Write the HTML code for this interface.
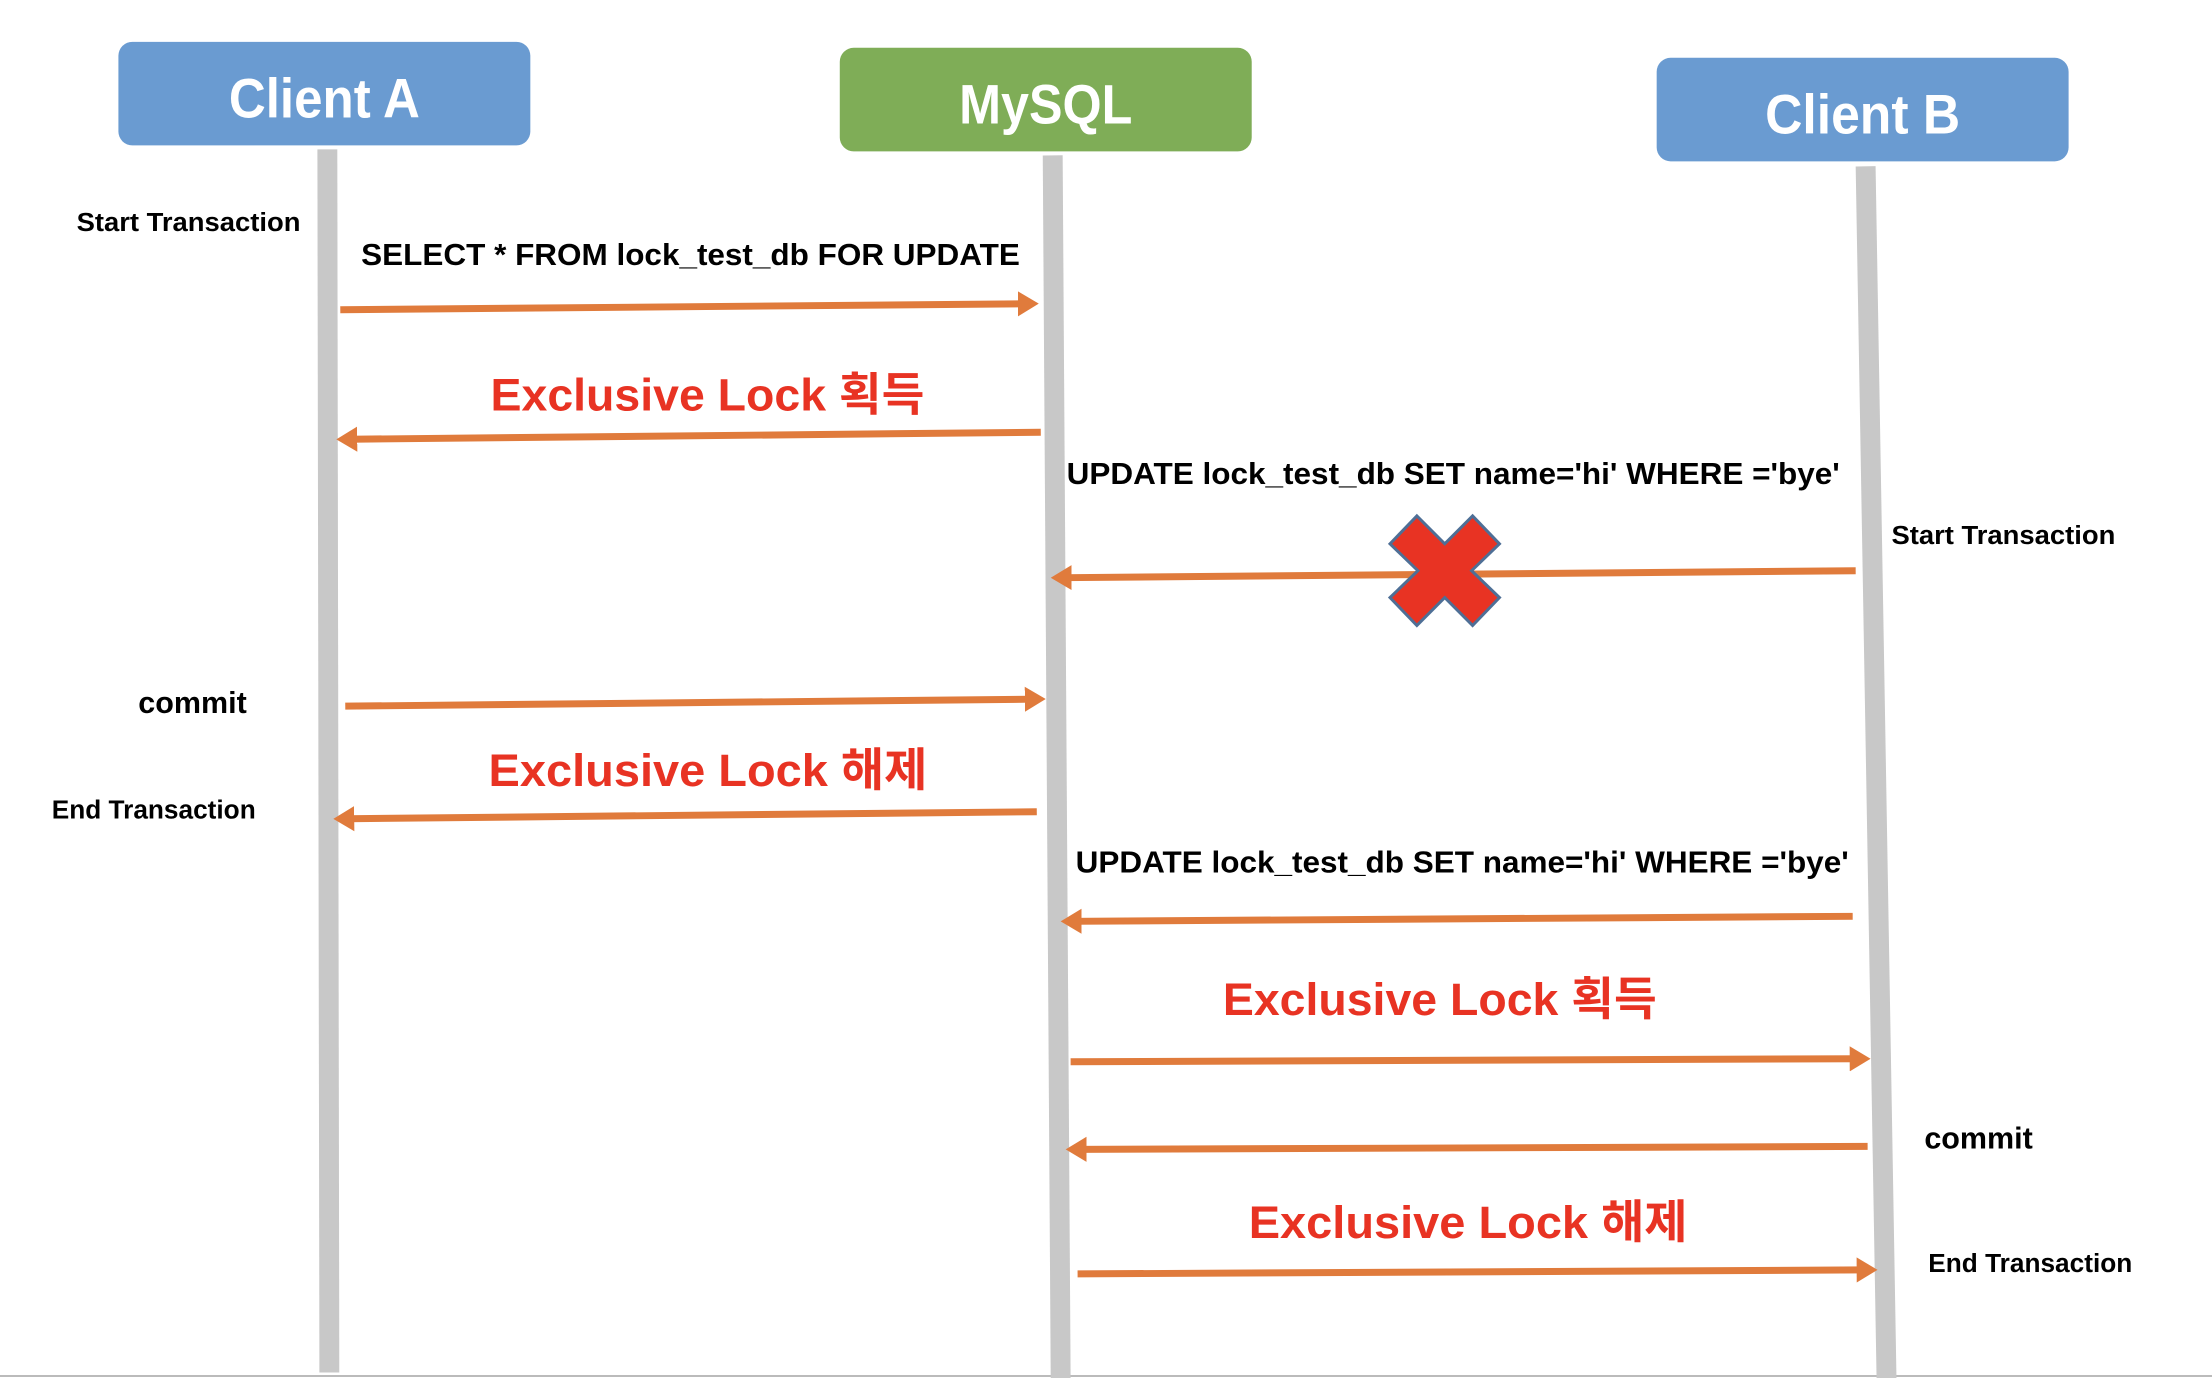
<!DOCTYPE html>
<html><head><meta charset="utf-8"><style>html,body{margin:0;padding:0;background:#fff}svg{display:block}</style></head><body>
<svg width="2212" height="1378" viewBox="0 0 2212 1378" xmlns="http://www.w3.org/2000/svg" font-family="Liberation Sans, Noto Sans CJK KR, NanumGothic, sans-serif" font-weight="bold">
<defs>
<marker id="ah" markerWidth="4" markerHeight="4" refX="1" refY="2" orient="auto" markerUnits="strokeWidth"><path d="M0,0.2 L3,2 L0,3.8 Z" fill="#e07b3c"/></marker>
</defs>
<line x1="0" y1="1376" x2="2212" y2="1376" stroke="#bbb" stroke-width="2"/>
<g transform="scale(0.995 0.996)">
<!-- lifelines -->
<line x1="329" y1="150" x2="331" y2="1378" stroke="#c8c8c8" stroke-width="20"/>
<line x1="1058" y1="156" x2="1066" y2="1384" stroke="#c8c8c8" stroke-width="20"/>
<line x1="1875" y1="167" x2="1896" y2="1384" stroke="#c8c8c8" stroke-width="20"/>
<!-- boxes -->
<rect x="119" y="42" width="414" height="104" rx="14" fill="#6a9bd1"/>
<rect x="844" y="48" width="414" height="104" rx="14" fill="#7fad57"/>
<rect x="1665" y="58" width="414" height="104" rx="14" fill="#6a9bd1"/>
<g fill="#fff" font-size="56" text-anchor="middle">
<text x="326" y="118" textLength="192" lengthAdjust="spacingAndGlyphs">Client A</text>
<text x="1051" y="124" textLength="174" lengthAdjust="spacingAndGlyphs">MySQL</text>
<text x="1872" y="134" textLength="196" lengthAdjust="spacingAndGlyphs">Client B</text>
</g>
<!-- arrows -->
<g stroke="#e07b3c" stroke-width="7" fill="none" marker-end="url(#ah)">
<line x1="342" y1="311" x2="1030" y2="305"/>
<line x1="1046" y1="434" x2="352" y2="441"/>
<line x1="1865" y1="573" x2="1070" y2="580"/>
<line x1="347" y1="709" x2="1037" y2="702"/>
<line x1="1042" y1="815" x2="349" y2="822"/>
<line x1="1862" y1="920" x2="1080" y2="925"/>
<line x1="1076" y1="1066" x2="1866" y2="1063"/>
<line x1="1877" y1="1151" x2="1085" y2="1154"/>
<line x1="1083" y1="1279" x2="1873" y2="1275"/>
</g>
<!-- X -->
<polygon transform="translate(1452,573)" points="-28,-55 0,-27 28,-55 55,-27 27,0 55,27 28,55 0,27 -28,55 -55,27 -27,0 -55,-27" fill="#e83323" stroke="#4e6f96" stroke-width="3"/>
<!-- black labels -->
<g fill="#000">
<text x="77" y="232" font-size="26" textLength="225" lengthAdjust="spacingAndGlyphs">Start Transaction</text>
<text x="363" y="266" font-size="31" textLength="662" lengthAdjust="spacingAndGlyphs">SELECT * FROM lock_test_db FOR UPDATE</text>
<text x="1072" y="486" font-size="31" textLength="777" lengthAdjust="spacingAndGlyphs">UPDATE lock_test_db SET name='hi' WHERE ='bye'</text>
<text x="1901" y="546" font-size="26" textLength="225" lengthAdjust="spacingAndGlyphs">Start Transaction</text>
<text x="139" y="716" font-size="31" textLength="109" lengthAdjust="spacingAndGlyphs">commit</text>
<text x="52" y="822" font-size="26" textLength="205" lengthAdjust="spacingAndGlyphs">End Transaction</text>
<text x="1081" y="876" font-size="31" textLength="777" lengthAdjust="spacingAndGlyphs">UPDATE lock_test_db SET name='hi' WHERE ='bye'</text>
<text x="1934" y="1153" font-size="31" textLength="109" lengthAdjust="spacingAndGlyphs">commit</text>
<text x="1938" y="1277" font-size="26" textLength="205" lengthAdjust="spacingAndGlyphs">End Transaction</text>
</g>
<!-- red labels -->
<g fill="#e83323" font-size="46">
<text x="493" y="412" textLength="436" lengthAdjust="spacingAndGlyphs">Exclusive Lock 획득</text>
<text x="491" y="789" textLength="441" lengthAdjust="spacingAndGlyphs">Exclusive Lock 해제</text>
<text x="1229" y="1019" textLength="436" lengthAdjust="spacingAndGlyphs">Exclusive Lock 획득</text>
<text x="1255" y="1243" textLength="441" lengthAdjust="spacingAndGlyphs">Exclusive Lock 해제</text>
</g>
</g>
</svg>
</body></html>
